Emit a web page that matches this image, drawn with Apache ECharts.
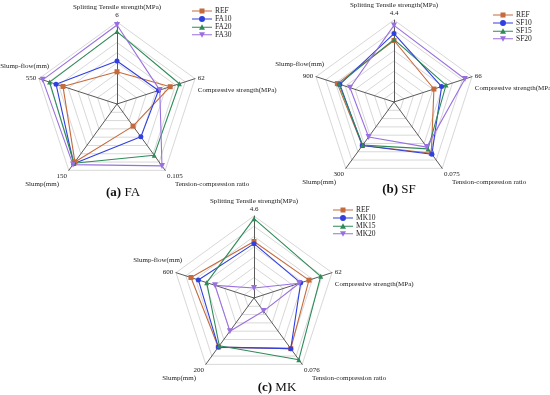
<!DOCTYPE html>
<html>
<head>
<meta charset="utf-8">
<script src="https://cdn.jsdelivr.net/npm/echarts@6/dist/echarts.min.js"></script>
<style>html,body{margin:0;padding:0;background:#fff}#c{width:550px;height:395px}</style>
</head>
<body>
<div id="c"></div>
<script>
// Axis order (counter-clockwise from top, as ECharts draws radar axes)
const axisNames = ['Splitting Tensile strength(MPa)', 'Slump-flow(mm)', 'Slump(mm)', 'Tension-compression ratio', 'Compressive strength(MPa)'];
const faMax = [6, 550, 150, 0.105, 62];
const sfMax = [4.4, 900, 300, 0.075, 66];
const mkMax = [4.6, 600, 200, 0.076, 62];

const faNames = ['REF', 'FA10', 'FA20', 'FA30'];
const faREF  = [2.36, 381, 131, 0.035, 42.3];
const faFA10 = [3.15, 430, 135, 0.052, 33];
const faFA20 = [5.3, 475, 134, 0.081, 49.6];
const faFA30 = [5.78, 524, 137, 0.098, 34];

const sfNames = ['REF', 'SF10', 'SF15', 'SF20'];
const sfREF  = [3.3, 654, 197, 0.058, 33.8];
const sfSF10 = [3.67, 625, 197, 0.059, 40.3];
const sfSF15 = [3.36, 635, 195, 0.053, 44];
const sfSF20 = [4.11, 508, 158, 0.051, 60];

const mkNames = ['REF', 'MK10', 'MK15', 'MK20'];
const mkREF  = [3.17, 485, 148, 0.058, 43.7];
const mkMK10 = [3.05, 428, 148, 0.058, 37.1];
const mkMK15 = [4.45, 364, 144, 0.0707, 53];
const mkMK20 = [0.56, 300, 100, 0.015, 36];

const captions = ['a', 'b', 'c'];
const captionNames = ['FA', 'SF', 'MK'];

const colors = ['#C46A3C', '#2F3FE0', '#2E8B57', '#9A70E0'];
const symbols = ['rect', 'circle', 'triangle', 'path://M0,0L10,0L5,9Z'];
const legendIcons = [
  'path://M0,2.5H20V3.5H0Z M7.5,0.5H12.5V5.5H7.5Z',
  'path://M0,2.5H20V3.5H0Z M10,0A3,3 0 1 1 10,6A3,3 0 1 1 10,0Z',
  'path://M0,2.5H20V3.5H0Z M10,0L13,5.5H7Z',
  'path://M0,2.5H20V3.5H0Z M7,0.5H13L10,6Z'
];

const FONT = '"Liberation Serif", "DejaVu Serif", serif';
const groups = [
  {max: faMax, names: faNames, vals: [faREF, faFA10, faFA20, faFA30], center: [117, 104], legend: [192, 7], title: [118, 181], flowShift: -13},
  {max: sfMax, names: sfNames, vals: [sfREF, sfSF10, sfSF15, sfSF20], center: [394, 102], legend: [493, 11], title: [394, 178], flowShift: -11},
  {max: mkMax, names: mkNames, vals: [mkREF, mkMK10, mkMK15, mkMK20], center: [254, 298], legend: [333, 206], title: [272, 376], flowShift: -9}
];

function nameFormatter(maxArr) {
  return function (name) {
    const i = axisNames.indexOf(name);
    const v = maxArr[i];
    if (i === 0) return '{nt|' + name + '}\n{vt|' + v + '}';
    if (i === 1) return '{nf|' + name + '}\n{v|' + v + '}\n{e| }';
    if (i === 2) return '{eb| }\n{vb|' + v + '}\n{nr|' + name + '}';
    if (i === 3) return '{eb| }\n{vb|' + v + '}\n{nl|' + name + '}';
    return '{e| }\n{v|' + v + '}\n{n|' + name + '}';
  };
}

const FS = 7;
const base = {fontFamily: FONT, fontSize: FS, color: '#222'};
const radars = [], series = [], legends = [], titles = [];
groups.forEach((g, gi) => {
  radars.push({
    center: g.center,
    radius: 82,
    startAngle: 90,
    splitNumber: 8,
    shape: 'polygon',
    indicator: axisNames.map((n, i) => ({name: n, min: 0, max: g.max[i]})),
    nameGap: 3,
    axisName: {
      formatter: nameFormatter(g.max),
      color: '#222',
      fontFamily: FONT,
      fontSize: FS,
      rich: {
        nt: Object.assign({lineHeight: 8}, base),
        vt: Object.assign({lineHeight: 8}, base),
        n: Object.assign({lineHeight: 12}, base),
        nf: Object.assign({lineHeight: 12, padding: [0, g.flowShift, 0, 0]}, base),
        v: Object.assign({lineHeight: 12}, base),
        e: Object.assign({lineHeight: 12}, base),
        eb: Object.assign({lineHeight: 14}, base),
        vb: Object.assign({lineHeight: 8}, base),
        nr: Object.assign({lineHeight: 8, padding: [0, 8, 0, 0]}, base),
        nl: Object.assign({lineHeight: 8, padding: [0, 0, 0, 8]}, base)
      }
    },
    axisLine: {lineStyle: {color: '#5a5a5a', width: 1}},
    splitLine: {lineStyle: {color: '#d8d8d8', width: 1}},
    splitArea: {show: false},
    axisTick: {show: false},
    axisLabel: {show: false}
  });
  series.push({
    type: 'radar',
    radarIndex: gi,
    symbolSize: 5,
    data: g.names.map((n, k) => ({
      name: n,
      value: g.vals[k],
      symbol: symbols[k],
      symbolSize: k === 3 ? 6 : 5,
      lineStyle: {color: colors[k], width: 1.1},
      itemStyle: {color: colors[k]}
    }))
  });
  legends.push({
    orient: 'vertical',
    left: g.legend[0],
    top: g.legend[1],
    itemWidth: 20,
    itemHeight: 6,
    itemGap: 0,
    padding: 0,
    textStyle: {fontFamily: FONT, fontSize: 7.5, color: '#222', padding: [0, 0, 0, -2]},
    data: g.names.map((n, k) => ({name: n, icon: legendIcons[k], itemStyle: {color: colors[k]}}))
  });
  titles.push({
    text: '{b|(' + captions[gi] + ')} ' + captionNames[gi],
    left: g.title[0],
    top: g.title[1],
    textAlign: 'center',
    textStyle: {
      fontFamily: FONT, fontSize: 13, fontWeight: 'normal', color: '#111',
      rich: {b: {fontFamily: FONT, fontSize: 13, fontWeight: 'bold', color: '#111'}}
    }
  });
});

const chart = echarts.init(document.getElementById('c'), null, {renderer: 'canvas'});
chart.setOption({
  animation: false,
  backgroundColor: '#fff',
  title: titles,
  legend: legends,
  radar: radars,
  series: series
});
</script>
</body>
</html>
